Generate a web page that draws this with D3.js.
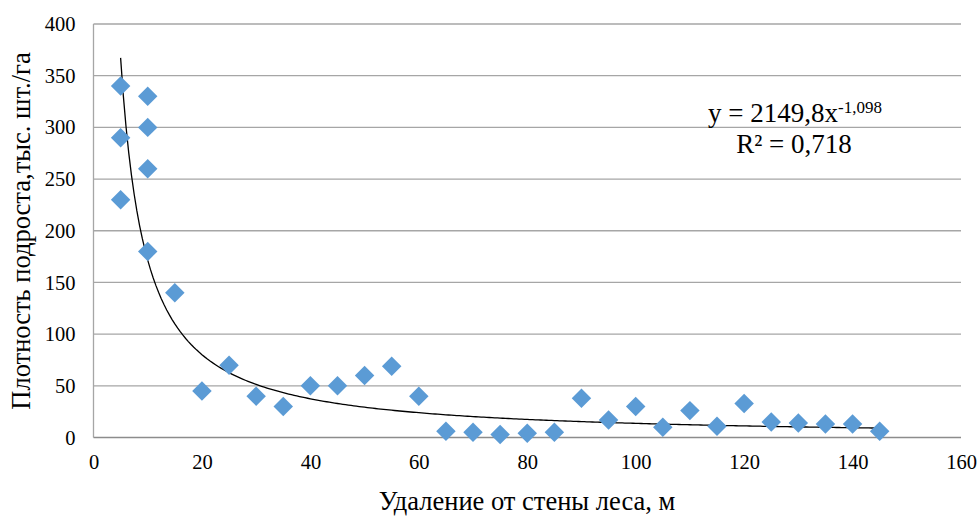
<!DOCTYPE html>
<html>
<head>
<meta charset="utf-8">
<script src="https://cdn.jsdelivr.net/npm/d3@7"></script>
<style>
  body { margin: 0; background: #fff; }
  svg text { font-family: "Liberation Serif", "Tinos", "Times New Roman", "DejaVu Serif", serif !important; fill: #000; }
</style>
</head>
<body>
<div class="panel"></div>
<script>
// distance from forest wall, m
const distances = [5, 5, 5, 10, 10, 10, 10, 15, 20, 25, 30, 35, 40, 45, 50, 55, 60, 65, 70, 75, 80, 85, 90, 95, 100, 105, 110, 115, 120, 125, 130, 135, 140, 145];
// undergrowth density, thousand/ha
const densities = [340, 290, 230, 330, 300, 260, 180, 140, 45, 70, 40, 30, 50, 50, 60, 69, 40, 6, 5, 3, 4, 5, 38, 17, 30, 10, 26, 11, 33, 15, 14, 13, 13, 6];
const xTicks = [0, 20, 40, 60, 80, 100, 120, 140, 160];
const yTicks = [0, 50, 100, 150, 200, 250, 300, 350, 400];
const trendCoef = 2149.8;
const trendPow = -1.098;

const width = 979;
const height = 516;
const margin = {left: 93.5, right: 18, top: 24, bottom: 78.5};

const svg = d3.select(".panel")
    .append("svg")
    .attr("width", width)
    .attr("height", height);

const x = d3.scaleLinear().domain([0, 160]).range([margin.left, width - margin.right]);
const y = d3.scaleLinear().domain([0, 400]).range([height - margin.bottom, margin.top]);

// gridlines
svg.append("g")
   .selectAll("line")
   .data(yTicks.filter(d => d > 0))
   .enter()
   .append("line")
   .attr("x1", x(0))
   .attr("x2", x(160))
   .attr("y1", d => y(d))
   .attr("y2", d => y(d))
   .attr("stroke", "#a6a6a6")
   .attr("stroke-width", 1.3);

// axes lines
svg.append("line")
   .attr("x1", x(0)).attr("x2", x(0))
   .attr("y1", y(0)).attr("y2", y(400))
   .attr("stroke", "#a6a6a6").attr("stroke-width", 1.3);
svg.append("line")
   .attr("x1", x(0)).attr("x2", x(160))
   .attr("y1", y(0)).attr("y2", y(0))
   .attr("stroke", "#8c8c8c").attr("stroke-width", 1.5);

// tick labels
const yAxis = svg.append("g")
   .attr("transform", `translate(${x(0)},0)`)
   .call(d3.axisLeft(y).tickValues(yTicks).tickSize(0).tickPadding(18));
const xAxis = svg.append("g")
   .attr("transform", `translate(0,${y(0)})`)
   .call(d3.axisBottom(x).tickValues(xTicks).tickSize(0).tickPadding(17));
[xAxis, yAxis].forEach(a => {
  a.attr("font-family", null).attr("font-size", null);
  a.select(".domain").remove();
  a.selectAll("text")
   .style("font-size", "20.5px")
   .attr("fill", "#000");
});

// trend line
const trendX = d3.range(5, 145.01, 0.5);
const line = d3.line()
   .x(d => x(d))
   .y(d => y(trendCoef * Math.pow(d, trendPow)));
svg.append("path")
   .datum(trendX)
   .attr("d", line)
   .attr("fill", "none")
   .attr("stroke", "#000")
   .attr("stroke-width", 1.3);

// points
const diamond = d3.symbol().type(d3.symbolSquare).size(190);
svg.append("g")
   .selectAll("path")
   .data(distances.map((d, i) => [d, densities[i]]))
   .enter()
   .append("path")
   .attr("d", diamond)
   .attr("transform", d => `translate(${x(d[0])},${y(d[1])}) rotate(45)`)
   .attr("fill", "#5b9bd5");

// equation
const eq = svg.append("text")
   .attr("x", 795)
   .attr("y", 122)
   .attr("text-anchor", "middle")
   .style("font-size", "27px");
eq.append("tspan").text("y = 2149,8x");
eq.append("tspan").attr("dy", -9).style("font-size", "17px").text("-1,098");
svg.append("text")
   .attr("x", 794)
   .attr("y", 153)
   .attr("text-anchor", "middle")
   .style("font-size", "27px")
   .text("R² = 0,718");

// axis titles
svg.append("text")
   .attr("x", 527)
   .attr("y", 510)
   .attr("text-anchor", "middle")
   .style("font-size", "26.5px")
   .text("Удаление от стены леса, м");
svg.append("text")
   .attr("transform", "translate(30,231) rotate(-90)")
   .attr("text-anchor", "middle")
   .style("font-size", "26.5px")
   .text("Плотность подроста,тыс. шт./га");
</script>
</body>
</html>
